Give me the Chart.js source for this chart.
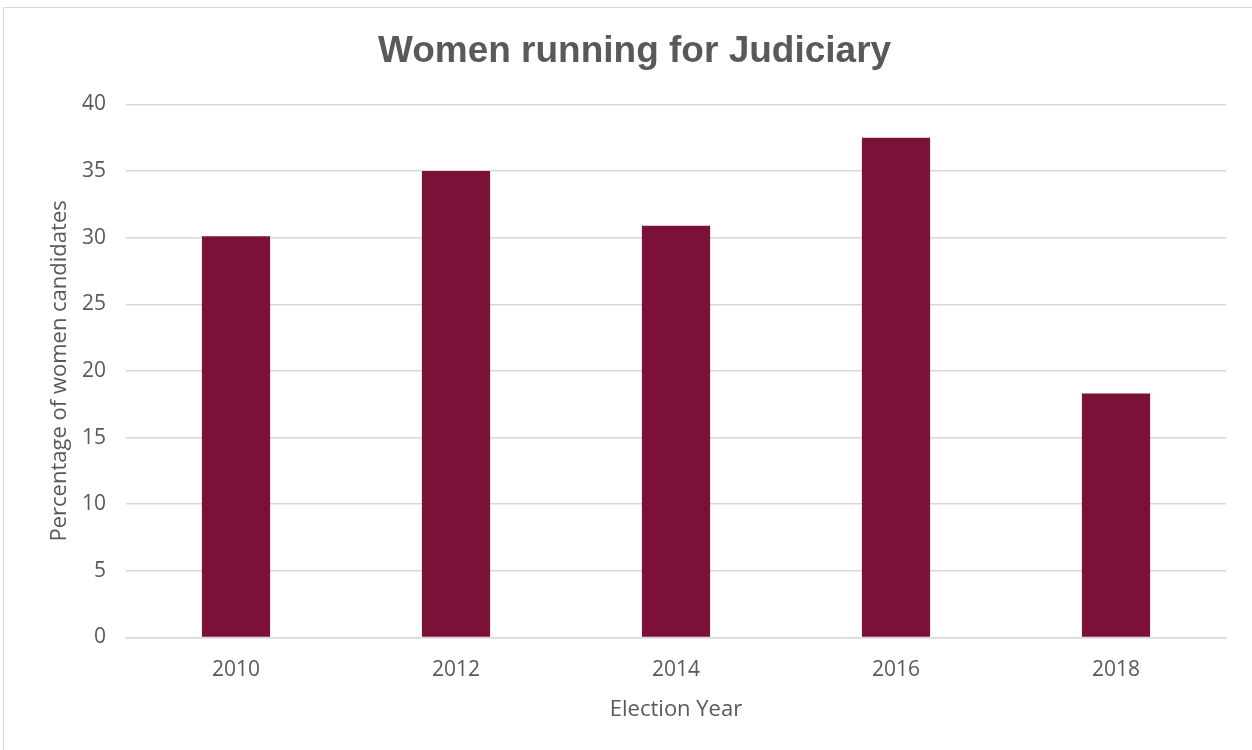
<!DOCTYPE html>
<html>
<head>
<meta charset="utf-8">
<script src="https://cdn.jsdelivr.net/npm/chart.js@4/dist/chart.umd.min.js"></script>
<style>
	html, body { margin: 0; padding: 0; background: #fff; }
	#frame {
		position: absolute; left: 3px; top: 7px;
		width: 1252px; height: 750px;
		border: 1px solid #d9d9d9; box-sizing: border-box;
	}
	#wrap { position: absolute; left: 0; top: 0; width: 1252px; height: 750px; }
</style>
</head>
<body>
<div id="frame"></div>
<div id="wrap"><canvas id="judiciaryChart" width="1252" height="750"></canvas></div>
<script>
"use strict";
// chart data
var years = ["2010", "2012", "2014", "2016", "2018"];
var womenPct = [30.1, 35.0, 30.9, 37.5, 18.3];
var yTicks = [0, 5, 10, 15, 20, 25, 30, 35, 40];

var textGrey = '#595959';
var gridGrey = '#d9d9d9';
var bodyFont = "'Open Sans', sans-serif";

var ctx = document.getElementById("judiciaryChart");
var config = {
	type: "bar",
	data: {
		labels: years,
		datasets: [{
			label: 'Percentage of women candidates',
			data: womenPct,
			backgroundColor: '#7b1138',
			borderWidth: 0,
			categoryPercentage: 1,
			barPercentage: 0.31
		}]
	},
	options: {
		responsive: false,
		animation: false,
		devicePixelRatio: 1,
		layout: {
			padding: { top: 12, right: 26, bottom: 27, left: 43 }
		},
		plugins: {
			legend: { display: false },
			tooltip: { enabled: false },
			title: {
				display: true,
				text: 'Women running for Judiciary',
				color: textGrey,
				font: { family: "'Liberation Sans', Arial, sans-serif", size: 37, weight: 'bold' },
				padding: { top: 18, bottom: 30 }
			}
		},
		scales: {
			x: {
				grid: { display: false, drawTicks: false },
				border: { display: true, color: gridGrey, width: 1.5 },
				ticks: {
					color: textGrey,
					font: { family: bodyFont, size: 21 },
					padding: 20
				},
				title: {
					display: true,
					text: 'Election Year',
					color: textGrey,
					font: { family: bodyFont, size: 22 },
					padding: { top: -6, bottom: 0 }
				}
			},
			y: {
				min: 0,
				max: 40,
				afterBuildTicks: function (axis) {
					axis.ticks = yTicks.map(function (v) { return { value: v }; });
				},
				afterFit: function (axis) {
					axis.width = 83;
				},
				grid: { color: gridGrey, lineWidth: 1.5, drawTicks: false },
				border: { display: false },
				ticks: {
					color: textGrey,
					font: { family: bodyFont, size: 21 },
					padding: 20
				},
				title: {
					display: true,
					text: 'Percentage of women candidates',
					color: textGrey,
					font: { family: bodyFont, size: 22 },
					padding: { top: 4, bottom: 0 }
				}
			}
		}
	}
};
var judiciaryChart = new Chart(ctx, config);
</script>
</body>
</html>
